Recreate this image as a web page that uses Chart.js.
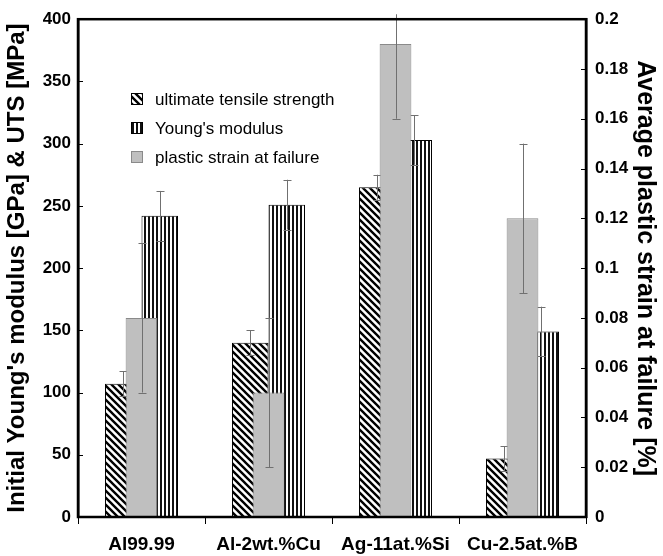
<!DOCTYPE html>
<html>
<head>
<meta charset="utf-8">
<script src="https://cdn.jsdelivr.net/npm/chart.js@4/dist/chart.umd.min.js"></script>
<style>
  html, body { margin: 0; padding: 0; background: #fff; }
  #chart { display: block; }
</style>
</head>
<body>
<canvas id="chart" width="663" height="556"></canvas>
<script>
'use strict';

// Values.
const categories = ['Al99.99', 'Al-2wt.%Cu', 'Ag-11at.%Si', 'Cu-2.5at.%B'];
const utsValues = [107, 140, 265, 47];
const utsErrors = [10, 10, 10, 10];
const modulusValues = [242, 251, 303, 149];
const modulusErrors = [20, 20, 20, 20];
const strainValues = [0.08, 0.05, 0.19, 0.12];
const strainErrors = [0.03, 0.03, 0.03, 0.03];
const seriesNames = ['ultimate tensile strength', "Young's modulus", 'plastic strain at failure'];
const leftTicks = [0, 50, 100, 150, 200, 250, 300, 350, 400];
const rightTicks = [0, 0.02, 0.04, 0.06, 0.08, 0.1, 0.12, 0.14, 0.16, 0.18, 0.2];

const FONT = "'Liberation Sans', Arial, sans-serif";

/**
 * Diagonal hatch, lines running top-left to bottom-right.
 */
const makeHatch = (ctx) => {
    const s = 7;
    const c = document.createElement('canvas');
    c.width = s;
    c.height = s;
    const g = c.getContext('2d');
    g.fillStyle = '#fff';
    g.fillRect(0, 0, s, s);
    g.strokeStyle = '#000';
    g.lineWidth = 2.4;
    g.beginPath();
    g.moveTo(-1, -1);
    g.lineTo(s + 1, s + 1);
    g.moveTo(s - 2, -2);
    g.lineTo(s + 2, 2);
    g.moveTo(-2, s - 2);
    g.lineTo(2, s + 2);
    g.stroke();
    return ctx.createPattern(c, 'repeat');
};

/**
 * Vertical stripes.
 */
const makeStripes = (ctx) => {
    const c = document.createElement('canvas');
    c.width = 4;
    c.height = 4;
    const g = c.getContext('2d');
    g.fillStyle = '#fff';
    g.fillRect(0, 0, 4, 4);
    g.fillStyle = '#111';
    g.fillRect(0, 0, 2, 4);
    return ctx.createPattern(c, 'repeat');
};

const canvas = document.getElementById('chart');
const ctx = canvas.getContext('2d');
const hatch = makeHatch(ctx);
const stripes = makeStripes(ctx);

const errorsByDataset = [utsErrors, modulusErrors, strainErrors];

// Error bars, drawn right after their own dataset so later bars can cover them.
const errorBars = {
    id: 'errorBars',
    afterDatasetDraw(chart, args) {
        const errs = errorsByDataset[args.index];
        const meta = args.meta;
        const yScale = chart.scales[meta.yAxisID];
        const values = chart.data.datasets[args.index].data;
        const area = chart.chartArea;
        const c = chart.ctx;
        c.save();
        c.beginPath();
        c.rect(area.left, area.top - 5, area.right - area.left, area.bottom - area.top + 5);
        c.clip();
        c.strokeStyle = '#707070';
        c.lineWidth = 1;
        meta.data.forEach((bar, i) => {
            const hi = yScale.getPixelForValue(values[i] + errs[i]);
            const lo = yScale.getPixelForValue(values[i] - errs[i]);
            const x = Math.round(bar.x) + 0.5;
            c.beginPath();
            c.moveTo(x, hi);
            c.lineTo(x, lo);
            c.moveTo(x - 4, Math.round(hi) + 0.5);
            c.lineTo(x + 4, Math.round(hi) + 0.5);
            c.moveTo(x - 4, Math.round(lo) + 0.5);
            c.lineTo(x + 4, Math.round(lo) + 0.5);
            c.stroke();
        });
        c.restore();
    },
};

// Plot frame, inward tick marks and the legend inside the plot.
const frameAndLegend = {
    id: 'frameAndLegend',
    afterDraw(chart) {
        const c = chart.ctx;
        const area = chart.chartArea;
        c.save();
        c.strokeStyle = '#000';
        c.lineWidth = 1;
        c.beginPath();
        chart.scales.y.ticks.forEach((t) => {
            const y = Math.round(chart.scales.y.getPixelForValue(t.value)) + 0.5;
            c.moveTo(area.left, y);
            c.lineTo(area.left + 5, y);
        });
        chart.scales.y2.ticks.forEach((t) => {
            const y = Math.round(chart.scales.y2.getPixelForValue(t.value)) + 0.5;
            c.moveTo(area.right - 5, y);
            c.lineTo(area.right, y);
        });
        c.stroke();
        c.lineWidth = 2.5;
        c.strokeRect(area.left, area.top, area.right - area.left, area.bottom - area.top);

        // legend
        const rows = [99, 128, 157];
        c.font = '17px ' + FONT;
        c.textBaseline = 'middle';
        c.textAlign = 'left';
        chart.data.datasets.forEach((ds, i) => {
            const y = rows[i];
            c.fillStyle = ds.backgroundColor;
            c.fillRect(131, y - 6, 12, 12);
            c.lineWidth = 1;
            c.strokeStyle = ds.borderColor;
            c.strokeRect(131.5, y - 5.5, 11, 11);
            c.fillStyle = '#000';
            c.fillText(ds.label, 155, y + 1);
        });
        c.restore();
    },
};

new Chart(canvas, {
    type: 'bar',
    data: {
        labels: categories,
        datasets: [{
            label: seriesNames[0],
            data: utsValues,
            backgroundColor: hatch,
            borderColor: '#000',
            borderWidth: 1,
            yAxisID: 'y',
            categoryPercentage: 0.575,
            barPercentage: 1,
            order: 1,
        }, {
            label: seriesNames[1],
            data: modulusValues,
            backgroundColor: stripes,
            borderColor: '#000',
            borderWidth: 1,
            yAxisID: 'y',
            categoryPercentage: 0.575,
            barPercentage: 1,
            order: 1,
        }, {
            label: seriesNames[2],
            data: strainValues,
            backgroundColor: '#bfbfbf',
            borderColor: '#8a8a8a',
            borderWidth: 1,
            yAxisID: 'y2',
            grouped: false,
            categoryPercentage: 0.25,
            barPercentage: 1,
            order: 0,
        }],
    },
    options: {
        responsive: false,
        animation: false,
        devicePixelRatio: 1,
        layout: {padding: {top: 19, left: 0, right: 0, bottom: 0}},
        plugins: {
            legend: {display: false},
            tooltip: {enabled: false},
        },
        scales: {
            x: {
                type: 'category',
                position: 'bottom',
                offset: true,
                grid: {offset: true, drawOnChartArea: false, drawTicks: true, tickLength: 7, color: '#000'},
                border: {display: true, color: '#000', width: 2},
                ticks: {color: '#000', font: {family: FONT, size: 19, weight: 'bold'}, padding: 9, maxRotation: 0},
                afterFit: (s) => { s.height = 39; },
            },
            y: {
                position: 'left',
                min: 0,
                max: 400,
                afterBuildTicks: (s) => { s.ticks = leftTicks.map((v) => ({value: v})); },
                grid: {drawOnChartArea: false, drawTicks: false},
                border: {display: true, color: '#000', width: 2.5},
                ticks: {color: '#000', font: {family: FONT, size: 17, weight: 'bold'}, padding: 7},
                title: {
                    display: true,
                    text: "Initial Young's modulus [GPa] & UTS [MPa]",
                    color: '#000',
                    font: {family: FONT, size: 24, weight: 'bold'},
                    padding: {top: 3, bottom: 0},
                },
                afterFit: (s) => { s.width = 78; },
            },
            y2: {
                position: 'right',
                min: 0,
                max: 0.2,
                afterBuildTicks: (s) => { s.ticks = rightTicks.map((v) => ({value: v})); },
                grid: {drawOnChartArea: false, drawTicks: false},
                border: {display: true, color: '#000', width: 2.5},
                ticks: {
                    color: '#000',
                    font: {family: FONT, size: 17, weight: 'bold'},
                    padding: 9,
                    callback: (v) => String(Number(v.toFixed(2))),
                },
                title: {
                    display: true,
                    text: 'Average plastic strain at failure [%]',
                    color: '#000',
                    font: {family: FONT, size: 25, weight: 'bold'},
                    padding: {top: 3, bottom: 0},
                },
                afterFit: (s) => { s.width = 77; },
            },
        },
    },
    plugins: [errorBars, frameAndLegend],
});
</script>
</body>
</html>
